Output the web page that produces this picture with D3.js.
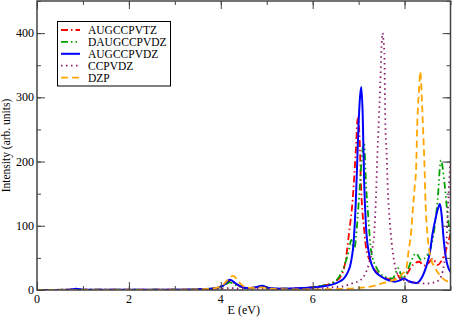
<!DOCTYPE html>
<html lang="en">
<head>
<meta charset="UTF-8">
<title>Spectra</title>
<script src="https://d3js.org/d3.v7.min.js"></script>
<style>
  body, html { margin: 0; padding: 0; background: #fff; overflow: hidden; }
  text { font-family: "Liberation Serif", "DejaVu Serif", serif; fill: #000; }
</style>
</head>
<body>
<svg id="chart" width="452" height="318"></svg>
<script>
// tick values
const xTicks = [0, 2, 4, 6, 8];
const yTicks = [0, 100, 200, 300, 400];

// AUGCCPVTZ (red, dash-dot)
const eTZ = [0, 1, 2, 3, 3.8, 4.05, 4.2, 4.35, 4.55, 4.75, 4.88, 5.05, 5.3, 5.8, 6.0, 6.2, 6.4, 6.52, 6.61, 6.72, 6.79, 6.87, 6.94, 6.98, 7.02, 7.05, 7.08, 7.12, 7.16, 7.27, 7.41, 7.59, 7.75, 7.85, 7.92, 8.05, 8.18, 8.32, 8.42, 8.5, 8.61, 8.72, 8.8, 8.9, 9.0];
const iTZ = [0, 0.5, 0.5, 0.5, 2, 7, 14, 8, 3, 4, 6, 3, 2, 3, 4.5, 6.5, 10, 15, 21, 47, 88, 140, 218, 268, 240, 166, 125, 95, 67, 42, 26, 18, 16, 23, 16, 25, 39, 44, 38, 40, 49, 39, 45, 62, 88];

// DAUGCCPVDZ (green, dash-dot-dot)
const eDA = [0, 1, 2, 3, 3.8, 4.05, 4.2, 4.35, 4.55, 4.75, 4.88, 5.05, 5.3, 5.8, 6.0, 6.2, 6.4, 6.55, 6.68, 6.79, 6.84, 6.9, 6.98, 7.03, 7.08, 7.12, 7.16, 7.21, 7.27, 7.38, 7.56, 7.74, 7.86, 7.96, 8.05, 8.14, 8.25, 8.36, 8.5, 8.61, 8.72, 8.79, 8.87, 8.94, 9.0];
const iDA = [0, 0.5, 0.5, 0.5, 2, 6, 12, 7, 3, 4, 6, 3, 2, 3, 4.5, 6.5, 10, 18, 36, 62, 78, 62, 114, 166, 215, 228, 166, 114, 62, 36, 21, 18, 34, 18, 28, 44, 57, 47, 55, 78, 140, 202, 166, 114, 82];

// AUGCCPVDZ (blue, solid)
const eDZ = [0, 0.7, 0.85, 1.0, 2, 3, 3.8, 4.05, 4.2, 4.35, 4.55, 4.75, 4.9, 5.05, 5.3, 5.8, 6.0, 6.2, 6.4, 6.55, 6.68, 6.76, 6.83, 6.9, 6.94, 6.97, 7.0, 7.03, 7.06, 7.09, 7.12, 7.16, 7.23, 7.34, 7.45, 7.56, 7.78, 7.9, 7.99, 8.08, 8.25, 8.38, 8.47, 8.55, 8.61, 8.67, 8.72, 8.77, 8.81, 8.85, 8.9, 8.95, 9.0];
const iDZ = [0, 0.5, 2, 0.5, 0.5, 0.5, 2, 7, 16, 9, 3, 4, 6.5, 3, 2, 3, 4, 5.5, 8, 12, 18, 27, 42, 83, 140, 200, 260, 300, 316, 270, 170, 100, 55, 31, 23, 18, 13, 15, 18, 14, 11, 20, 36, 58, 88, 110, 125, 134, 115, 80, 50, 35, 28];

// CCPVDZ (maroon, dotted)
const eCC = [0, 1, 2, 3, 3.8, 4.2, 4.6, 4.9, 5.3, 6.0, 6.4, 6.68, 6.85, 7.05, 7.15, 7.23, 7.3, 7.34, 7.38, 7.41, 7.44, 7.47, 7.5, 7.52, 7.54, 7.56, 7.58, 7.61, 7.63, 7.66, 7.7, 7.78, 7.88, 8.0, 8.2, 8.47, 8.7, 8.8, 8.86, 8.9, 8.94, 8.97, 9.0];
const iCC = [0, 0.3, 0.3, 0.5, 1, 3, 1, 2, 1, 2, 4, 6, 10, 16, 26, 42, 65, 88, 150, 213, 265, 317, 380, 400, 390, 369, 265, 213, 166, 125, 88, 42, 21, 15, 12, 10, 13, 22, 40, 62, 120, 166, 202];

// DZP (orange, dashed)
const eDZP = [0, 1, 2, 3, 3.8, 4.05, 4.15, 4.27, 4.4, 4.55, 4.75, 4.9, 5.1, 5.5, 6.0, 6.5, 7.0, 7.3, 7.49, 7.7, 7.85, 7.96, 8.03, 8.09, 8.14, 8.18, 8.22, 8.25, 8.28, 8.32, 8.34, 8.36, 8.38, 8.41, 8.43, 8.46, 8.5, 8.57, 8.65, 8.78, 8.94, 9.0];
const iDZP = [0, 0.3, 0.3, 0.3, 2, 8, 16, 22, 12, 4, 3, 4, 2, 1, 1, 1.5, 3, 6, 10, 14, 18, 26, 31, 62, 88, 125, 160, 187, 265, 317, 340, 325, 291, 239, 202, 130, 85, 50, 36, 22, 13, 12];

const series = [
    { name: "AUGCCPVTZ", e: eTZ, i: iTZ, color: "#ff0000", dash: "7,3,1.5,3", width: 1.8 },
    { name: "DAUGCCPVDZ", e: eDA, i: iDA, color: "#00a000", dash: "7,3,1.5,3,1.5,3", width: 1.8 },
    { name: "AUGCCPVDZ", e: eDZ, i: iDZ, color: "#0000ff", dash: null, width: 2 },
    { name: "CCPVDZ", e: eCC, i: iCC, color: "#8b1a6b", dash: "1.5,3.5", width: 1.8 },
    { name: "DZP", e: eDZP, i: iDZP, color: "#ffa500", dash: "7,4", width: 1.8 }
];

const svg = d3.select("#chart");
const mLeft = 37, mRight = 450.5, mTop = 1, mBottom = 290;

const x = d3.scaleLinear().domain([0, 9]).range([mLeft, mRight]);
const y = d3.scaleLinear().domain([0, 450]).range([mBottom, mTop]);

svg.append("clipPath").attr("id", "clip")
    .append("rect")
    .attr("x", mLeft).attr("y", mTop)
    .attr("width", mRight - mLeft).attr("height", mBottom - mTop);

// curves
const line = d3.line()
    .x(d => x(d[0]))
    .y(d => y(d[1]))
    .curve(d3.curveMonotoneX);

const plot = svg.append("g").attr("clip-path", "url(#clip)");
series.forEach(s => {
    plot.append("path")
        .datum(s.e.map((v, k) => [v, s.i[k]]))
        .attr("fill", "none")
        .attr("stroke", s.color)
        .attr("stroke-width", s.width)
        .attr("stroke-dasharray", s.dash)
        .attr("stroke-linejoin", "round")
        .attr("d", line);
});

// axes, ticks pointing inward on all four sides
const frameColor = "#444";
const xMinor = d3.range(0, 9.01, 1);
const yMinor = d3.range(0, 451, 50);

function noDomain(g) { g.select(".domain").remove(); }

[[xMinor, 4], [xTicks, 8]].forEach(([vals, len]) => {
    svg.append("g").attr("transform", `translate(0,${mBottom})`)
        .call(d3.axisTop(x).tickValues(vals).tickSize(len).tickFormat(""))
        .call(noDomain);
    svg.append("g").attr("transform", `translate(0,${mTop})`)
        .call(d3.axisBottom(x).tickValues(vals).tickSize(len).tickFormat(""))
        .call(noDomain);
});
[[yMinor, 4], [yTicks, 8]].forEach(([vals, len]) => {
    svg.append("g").attr("transform", `translate(${mLeft},0)`)
        .call(d3.axisRight(y).tickValues(vals).tickSize(len).tickFormat(""))
        .call(noDomain);
    svg.append("g").attr("transform", `translate(${mRight},0)`)
        .call(d3.axisLeft(y).tickValues(vals).tickSize(len).tickFormat(""))
        .call(noDomain);
});

svg.selectAll(".tick line").attr("stroke", frameColor).attr("stroke-width", 1);

svg.append("rect")
    .attr("x", mLeft).attr("y", mTop)
    .attr("width", mRight - mLeft).attr("height", mBottom - mTop)
    .attr("fill", "none")
    .attr("stroke", frameColor)
    .attr("stroke-width", 1.5);

// tick labels
svg.append("g").selectAll("text")
    .data(xTicks)
    .join("text")
    .attr("x", d => x(d))
    .attr("y", 303)
    .attr("text-anchor", "middle")
    .attr("font-size", 12)
    .text(d => d);

svg.append("g").selectAll("text")
    .data(yTicks)
    .join("text")
    .attr("x", 34)
    .attr("y", d => y(d) + 4)
    .attr("text-anchor", "end")
    .attr("font-size", 12)
    .text(d => d);

// axis titles
svg.append("text")
    .attr("x", (mLeft + mRight) / 2)
    .attr("y", 314)
    .attr("text-anchor", "middle")
    .attr("font-size", 12)
    .text("E (eV)");

svg.append("text")
    .attr("transform", `translate(10,${(mTop + mBottom) / 2}) rotate(-90)`)
    .attr("text-anchor", "middle")
    .attr("font-size", 11.5)
    .text("Intensity (arb. units)");

// legend
const legend = svg.append("g");
legend.append("rect")
    .attr("x", 57.5).attr("y", 21.5)
    .attr("width", 113).attr("height", 64.5)
    .attr("fill", "#fff")
    .attr("stroke", "#000")
    .attr("stroke-width", 1);

series.forEach((s, k) => {
    const ly = 30 + k * 11.9;
    legend.append("line")
        .attr("x1", 61).attr("x2", 80)
        .attr("y1", ly).attr("y2", ly)
        .attr("stroke", s.color)
        .attr("stroke-width", s.width)
        .attr("stroke-dasharray", s.dash);
    legend.append("text")
        .attr("x", 88)
        .attr("y", ly + 4)
        .attr("font-size", 11.5)
        .text(s.name);
});
</script>
</body>
</html>
